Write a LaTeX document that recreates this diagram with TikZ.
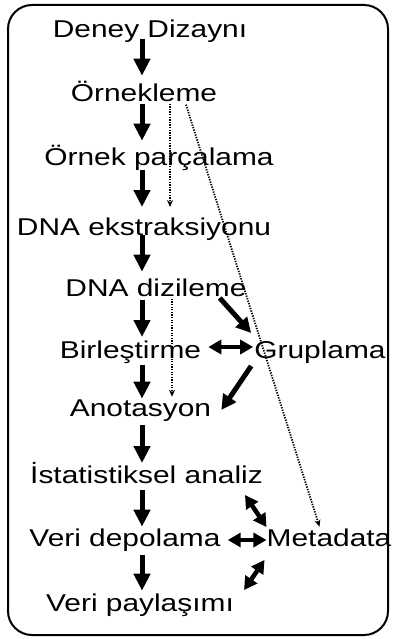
\documentclass[tikz,border=0pt]{standalone}
\usepackage{fontspec}
\setmainfont[FakeStretch=1.23]{Liberation Sans}
\usetikzlibrary{arrows.meta,calc}
\tikzset{
  lbl/.style={anchor=base,inner sep=0pt,font=\fontsize{24.3}{28}\selectfont},
  big/.style={line width=5pt,-{Triangle[width=16pt,length=17pt]}},
  side/.style={line width=5pt,-{Triangle[width=15pt,length=15pt]}},
  dbl/.style={line width=4.5pt,{Triangle[width=14pt,length=13pt]}-{Triangle[width=14pt,length=13pt]}},
  dot/.style={line width=1.8pt,dash pattern=on 1.3pt off 1.3pt,-{Stealth[width=6pt,length=7pt]}},
  frame/.style={line width=2pt,rounded corners=24pt}
}
\begin{document}
\begin{tikzpicture}[x=1pt,y=-1pt]
\useasboundingbox (0,0) rectangle (392,639);
\draw[frame] (8,5) rectangle (388,635);
\coordinate (col) at (142,0);
\node[lbl] (dd) at (150,37.7) {Deney Dizaynı};
\node[lbl] (ork) at (144,101.7) {Örnekleme};
\node[lbl] (orp) at (159,165.7) {Örnek parçalama};
\node[lbl] (dnae) at (144,235) {DNA ekstraksiyonu};
\node[lbl] (dnad) at (156,296.7) {DNA dizileme};
\node[lbl] (bir) at (130.5,358) {Birleştirme};
\node[lbl] (grp) at (320,358) {Gruplama};
\node[lbl] (ano) at (140.5,416.7) {Anotasyon};
\node[lbl] (ist) at (146.5,483) {İstatistiksel analiz};
\node[lbl] (vd) at (125,546.7) {Veri depolama};
\node[lbl] (meta) at (329,546.7) {Metadata};
\node[lbl] (vp) at (140,611.7) {Veri paylaşımı};
% main column arrows
\draw[big] ([yshift=-1pt]dd.base -| col) -- ([yshift=26pt]ork.base -| col);
\draw[big] ([yshift=-2pt]ork.base -| col) -- ([yshift=25pt]orp.base -| col);
\draw[big] ([yshift=-4pt]orp.base -| col) -- ([yshift=28pt]dnae.base -| col);
\draw[big] ([yshift=0pt]dnae.base -| col) -- ([yshift=25pt]dnad.base -| col);
\draw[big] ([yshift=-3pt]dnad.base -| col) -- ([yshift=21pt]bir.base -| col);
\draw[big] ([yshift=-7pt]bir.base -| col) -- ([yshift=18pt]ano.base -| col);
\draw[big] ([yshift=-8pt]ano.base -| col) -- ([yshift=20pt]ist.base -| col);
\draw[big] ([yshift=-7pt]ist.base -| col) -- ([yshift=20pt]vd.base -| col);
\draw[big] ([yshift=-8pt]vd.base -| col) -- ([yshift=21pt]vp.base -| col);
% dotted arrows
\draw[dot] ($(ork.base)+(26,2)$) -- ($(dnae.base)+(26,-28)$);
\draw[dot] ($(dnad.base)+(16,2)$) -- ($(ano.base)+(31.5,-20)$);
\draw[dot] ($(ork.base)+(42,3)$) -- ($(meta.base west)+(53,-20)$);
% side arrows
\draw[side] ($(dnad.base east)+(-27,1.3)$) -- ($(grp.base west)+(-3,-25)$);
\draw[dbl] ($(bir.base east)+(7,-11)$) -- ($(grp.base west)+(-1,-11)$);
\draw[side] ($(grp.base west)+(-3,8)$) -- ($(ano.base east)+(10,-6.7)$);
\draw[dbl] ($(ist.base east)+(-18,12)$) -- ($(meta.base west)+(0,-19.7)$);
\draw[dbl] ($(vd.base east)+(7,-6.7)$) -- ($(meta.base west)+(0,-6.7)$);
\draw[dbl] ($(vp.base east)+(10,-21.7)$) -- ($(meta.base west)+(-2,13.3)$);
\end{tikzpicture}
\end{document}
